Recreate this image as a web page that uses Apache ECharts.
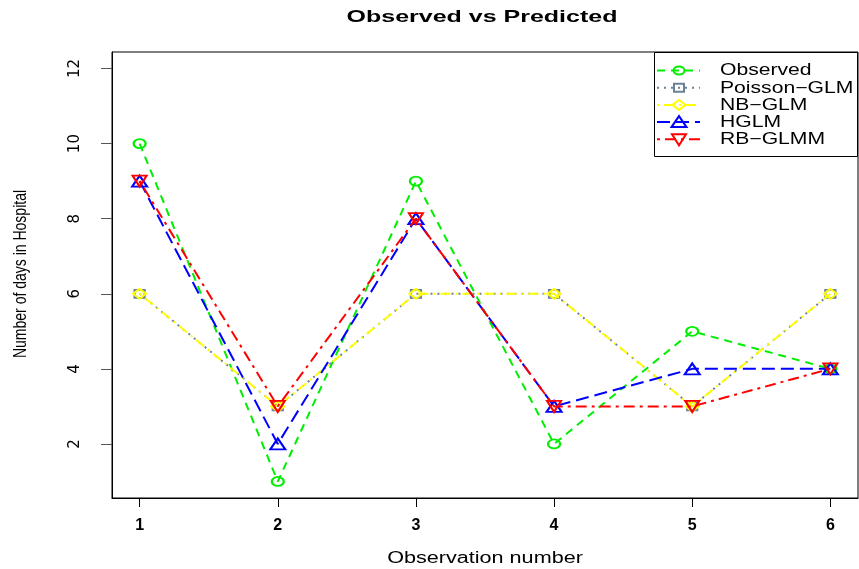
<!DOCTYPE html>
<html>
<head>
<meta charset="utf-8">
<script src="https://cdn.jsdelivr.net/npm/echarts@6/dist/echarts.min.js"></script>
<style>
  html, body { margin: 0; padding: 0; background: #fff; }
  #chart { width: 859px; height: 569px; }
</style>
</head>
<body>
<div id="chart"></div>
<script>
// Observation index and the observed / fitted hospital stay lengths
const observations = [1, 2, 3, 4, 5, 6];
const observed   = [10, 1, 9, 2, 5, 4];
const poissonGlm = [6, 3, 6, 6, 3, 6];
const nbGlm      = [6, 3, 6, 6, 3, 6];
const hglm       = [9, 2, 8, 3, 4, 4];
const rbGlmm     = [9, 3, 8, 3, 3, 4];
const yTicks = [2, 4, 6, 8, 10, 12];
const xTicks = [1, 2, 3, 4, 5, 6];
const seriesNames = ['Observed', 'Poisson\u2212GLM', 'NB\u2212GLM', 'HGLM', 'RB\u2212GLMM'];

// Per-series look: colour, dash pattern, marker
const styles = [
  { color: '#00ee00', dash: [8, 6],         marker: 'circle' },
  { color: '#6b8099', dash: [2, 5],         marker: 'rect' },
  { color: '#ffff00', dash: [2, 5, 10, 5],  marker: 'diamond' },
  { color: '#0000ff', dash: [13, 6],        marker: 'triangle' },
  { color: '#ff0000', dash: [3, 5, 11, 5],  marker: 'down' }
];
const seriesValues = [observed, poissonGlm, nbGlm, hglm, rbGlmm];

const downTriangle = 'path://M0,0 L10,0 L5,9 Z';
const markerSymbol = { circle: 'circle', rect: 'rect', diamond: 'diamond', triangle: 'triangle', down: downTriangle };
const markerSize = { circle: [12, 9], rect: [10, 8], diamond: [13, 10], triangle: [15, 11], down: [14, 11] };

const pairs = vals => observations.map((x, i) => [x, vals[i]]);

const series = seriesNames.map((name, k) => ({
  name: name,
  type: 'line',
  data: pairs(seriesValues[k]),
  symbol: markerSymbol[styles[k].marker],
  symbolSize: markerSize[styles[k].marker],
  showAllSymbol: true,
  lineStyle: { color: styles[k].color, width: 2, type: styles[k].dash },
  itemStyle: { color: 'rgba(255,255,255,0)', borderColor: styles[k].color, borderWidth: 2 },
  emphasis: { disabled: true },
  z: 2 + k
}));

// Legend key shapes drawn as graphics
function keyMarker(kind, cx, cy, color) {
  const st = { fill: 'none', stroke: color, lineWidth: 2 };
  if (kind === 'circle') return { type: 'ellipse', shape: { cx: cx, cy: cy, rx: 5.5, ry: 4 }, style: st };
  if (kind === 'rect') return { type: 'rect', shape: { x: cx - 5, y: cy - 4, width: 10, height: 8 }, style: st };
  if (kind === 'diamond') return { type: 'polygon', shape: { points: [[cx - 6.5, cy], [cx, cy - 5], [cx + 6.5, cy], [cx, cy + 5]] }, style: st };
  if (kind === 'triangle') return { type: 'polygon', shape: { points: [[cx - 7.5, cy + 5], [cx + 7.5, cy + 5], [cx, cy - 6]] }, style: st };
  return { type: 'polygon', shape: { points: [[cx - 7, cy - 5], [cx + 7, cy - 5], [cx, cy + 6]] }, style: st };
}

const legendTop = 70.5, legendStep = 17.2;
const legendChildren = [
  { type: 'rect', shape: { x: 654.5, y: 52.5, width: 203, height: 104 }, style: { fill: '#fff', stroke: '#000', lineWidth: 1 } }
];
seriesNames.forEach((name, k) => {
  const y = legendTop + k * legendStep;
  legendChildren.push({ type: 'line', shape: { x1: 657, y1: y, x2: 700, y2: y }, style: { stroke: styles[k].color, lineWidth: 2, lineDash: styles[k].dash } });
  legendChildren.push(keyMarker(styles[k].marker, 679, y, styles[k].color));
  legendChildren.push({ type: 'text', x: 720, y: y + 0.5, scaleX: 1.32,
    style: { text: name, fontSize: 16, fontFamily: 'Liberation Sans', fill: '#000', textAlign: 'left', textVerticalAlign: 'middle', align: 'left', verticalAlign: 'middle' } });
});

const chart = echarts.init(document.getElementById('chart'), null, { renderer: 'canvas' });
chart.setOption({
  backgroundColor: '#ffffff',
  animation: false,
  grid: {
    left: 112, top: 52, right: 1, bottom: 71,
    show: true, borderColor: '#000', borderWidth: 1, backgroundColor: 'transparent'
  },
  xAxis: {
    type: 'value', min: 0.8, max: 6.2,
    axisLine: { show: true, onZero: false, lineStyle: { color: '#000', width: 1 } },
    axisTick: { show: true, inside: false, length: 9, customValues: xTicks, lineStyle: { color: '#000' } },
    axisLabel: { customValues: xTicks, margin: 20, fontFamily: 'Liberation Sans', fontWeight: 'bold', fontSize: 16, color: '#000' },
    splitLine: { show: false }
  },
  yAxis: {
    type: 'value', min: 0.56, max: 12.44,
    axisLine: { show: true, onZero: false, lineStyle: { color: '#000', width: 1 } },
    axisTick: { show: true, inside: false, length: 11, customValues: yTicks, lineStyle: { color: '#555' } },
    axisLabel: { customValues: yTicks, rotate: 90, margin: 29, fontFamily: 'DejaVu Sans', fontSize: 15, color: '#000' },
    splitLine: { show: false }
  },
  graphic: [
    { type: 'text', x: 482, y: 17, scaleX: 1.47, z: 10,
      style: { text: 'Observed vs Predicted', fontSize: 17, fontWeight: 'bold', fontFamily: 'Liberation Sans', fill: '#000', textAlign: 'center', textVerticalAlign: 'middle', align: 'center', verticalAlign: 'middle' } },
    { type: 'text', x: 485, y: 559, scaleX: 1.35, z: 10,
      style: { text: 'Observation number', fontSize: 16, fontFamily: 'Liberation Sans', fill: '#000', textAlign: 'center', textVerticalAlign: 'middle', align: 'center', verticalAlign: 'middle' } },
    { type: 'text', x: 21, y: 274, rotation: Math.PI / 2, scaleY: 1.3, z: 10,
      style: { text: 'Number of days in Hospital', fontSize: 14, fontFamily: 'Liberation Sans', fill: '#000', textAlign: 'center', textVerticalAlign: 'middle', align: 'center', verticalAlign: 'middle' } },
    { type: 'group', z: 20, children: legendChildren }
  ],
  series: series
});
</script>
</body>
</html>
